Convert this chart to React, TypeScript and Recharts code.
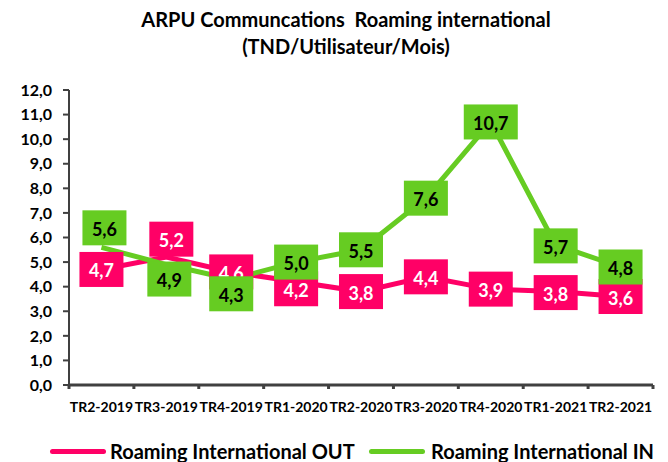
import React from "react";
import { LineChart, Line, XAxis, YAxis, Legend, LabelList } from "recharts";

if (typeof document !== "undefined") {
  document.body.style.margin = "0";
}

const categories = [
  "TR2-2019",
  "TR3-2019",
  "TR4-2019",
  "TR1-2020",
  "TR2-2020",
  "TR3-2020",
  "TR4-2020",
  "TR1-2021",
  "TR2-2021",
];
const roamingOut = [4.7, 5.2, 4.6, 4.2, 3.8, 4.4, 3.9, 3.8, 3.6];
const roamingIn = [5.6, 4.9, 4.3, 5.0, 5.5, 7.6, 10.7, 5.7, 4.8];
const yTicks = [0, 1, 2, 3, 4, 5, 6, 7, 8, 9, 10, 11, 12];

const data = categories.map((c, i) => ({ cat: c, out: roamingOut[i], in: roamingIn[i] }));

const PINK = "#FF0066";
const GREEN = "#66CC22";
const AXIS = "#404040";
const FONT = "Lato, 'Open Sans', sans-serif";
const HALF_BAND = 32.45;

// label box placement tweaks (style only)
const outDy = [0, -18, 0, 7, 0, 0, 0, 1, 0];
const outDx = [0, 5, 0, 0, 0, 0, 0, 0, 0];
const inDy = [-19.5, 14.5, 14.5, 0, 0, 0, 0, 1, 0];
const inDx = [3, 3, 0, 0, 0, 0, 0, 0, 0];

const fmt = (v: number) => v.toFixed(1).replace(".", ",");

const makeLabel = (fill: string, textColor: string, dyArr: number[], dxArr: number[]) => (props: any) => {
  const { x, y, value, index } = props;
  if (x == null || y == null) return null;
  const txt = fmt(Number(value));
  const w = txt.length > 3 ? 54 : 44;
  const h = 35;
  const cx = x + (dxArr[index] || 0);
  const cy = y + (dyArr[index] || 0);
  return (
    <g>
      <rect x={cx - w / 2} y={cy - h / 2} width={w} height={h} fill={fill} />
      <text
        x={cx}
        y={cy + 1}
        textAnchor="middle"
        dominantBaseline="central"
        fontFamily={FONT}
        fontWeight={700}
        fontSize={18}
        fill={textColor}
      >
        {txt}
      </text>
    </g>
  );
};

const XTick = (props: any) => {
  const { x, y, payload, index } = props;
  const last = index === categories.length - 1;
  return (
    <g>
      <line x1={x - HALF_BAND} x2={x - HALF_BAND} y1={y} y2={y + 4} stroke={AXIS} strokeWidth={3} />
      {last && <line x1={x + HALF_BAND} x2={x + HALF_BAND} y1={y} y2={y + 4} stroke={AXIS} strokeWidth={3} />}
      <text
        x={x}
        y={y + 21}
        textAnchor="middle"
        dominantBaseline="central"
        fontFamily={FONT}
        fontWeight={700}
        fontSize={14}
        fill="#000"
      >
        {payload.value}
      </text>
    </g>
  );
};

const LegendContent = () => (
  <div style={{ position: "relative", width: 668, height: 30, fontFamily: FONT, fontWeight: 700, fontSize: 20, color: "#000" }}>
    <div style={{ position: "absolute", left: 50, top: 13, width: 56, height: 5, borderRadius: 3, background: PINK }} />
    <div style={{ position: "absolute", left: 110, top: 2, whiteSpace: "nowrap", lineHeight: "26px" }}>
      Roaming International OUT
    </div>
    <div style={{ position: "absolute", left: 369, top: 13, width: 56, height: 5, borderRadius: 3, background: GREEN }} />
    <div style={{ position: "absolute", left: 431, top: 2, whiteSpace: "nowrap", lineHeight: "26px" }}>
      Roaming International IN
    </div>
  </div>
);

export default function App() {
  return (
    <div style={{ position: "relative", width: 668, height: 462, background: "#fff" }}>
      <div
        style={{
          position: "absolute",
          left: 12,
          top: 6,
          width: 668,
          textAlign: "center",
          fontFamily: FONT,
          fontWeight: 700,
          fontSize: 20,
          lineHeight: "27px",
          color: "#000",
          whiteSpace: "pre",
          zIndex: 2,
        }}
      >
        {"ARPU Communcations  Roaming international\n(TND/Utilisateur/Mois)"}
      </div>
      <LineChart width={668} height={462} data={data} margin={{ top: 90, right: 15, left: 0, bottom: 47 }}>
        <XAxis
          dataKey="cat"
          padding={{ left: HALF_BAND, right: HALF_BAND }}
          height={30}
          tickSize={0}
          tickMargin={0}
          tickLine={false}
          axisLine={{ stroke: AXIS, strokeWidth: 3 }}
          tick={<XTick />}
          interval={0}
        />
        <YAxis
          width={69}
          domain={[0, 12]}
          ticks={yTicks}
          interval={0}
          tickFormatter={fmt}
          tickSize={6}
          tickMargin={11}
          tickLine={{ stroke: AXIS, strokeWidth: 2 }}
          axisLine={{ stroke: AXIS, strokeWidth: 2 }}
          tick={{ fontFamily: FONT, fontWeight: 700, fontSize: 16, fill: "#000" }}
        />
        <Legend
          verticalAlign="middle"
          align="center"
          layout="horizontal"
          wrapperStyle={{ top: 436, left: 0, width: 668 }}
          content={<LegendContent />}
        />
        <Line
          dataKey="out"
          name="Roaming International OUT"
          stroke={PINK}
          strokeWidth={5}
          dot={false}
          activeDot={false}
          isAnimationActive={false}
        >
          <LabelList dataKey="out" content={makeLabel(PINK, "#fff", outDy, outDx)} />
        </Line>
        <Line
          dataKey="in"
          name="Roaming International IN"
          stroke={GREEN}
          strokeWidth={5}
          dot={false}
          activeDot={false}
          isAnimationActive={false}
        >
          <LabelList dataKey="in" content={makeLabel(GREEN, "#000", inDy, inDx)} />
        </Line>
      </LineChart>
    </div>
  );
}
